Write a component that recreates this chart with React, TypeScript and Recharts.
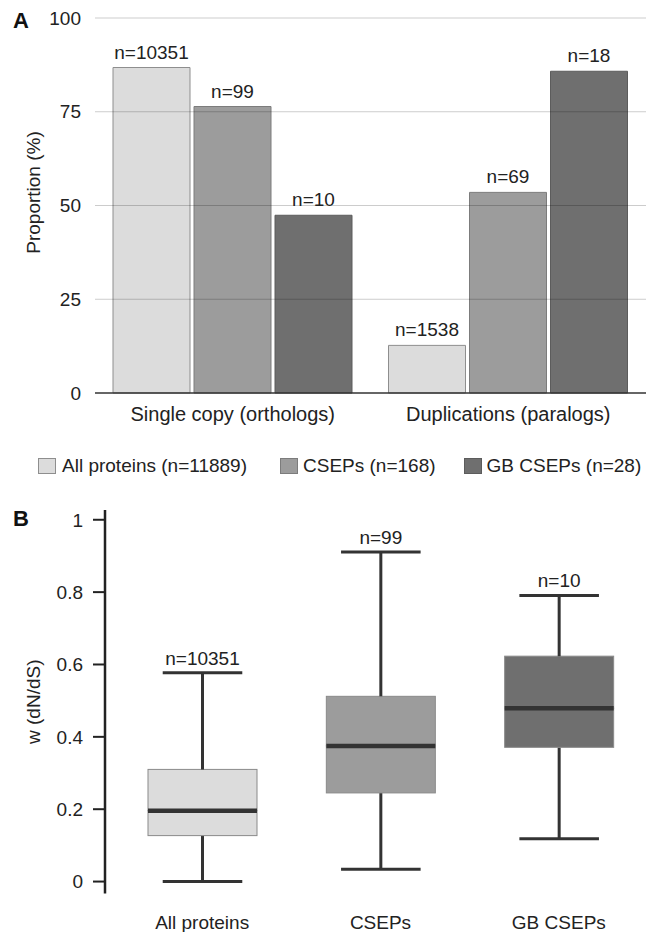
import React from 'react';
import { BarChart, Bar, XAxis, YAxis, ReferenceLine, LabelList, Cell } from 'recharts';

const FONT = '"Liberation Sans", Arial, Helvetica, sans-serif';
const TEXT = '#222';

// ---------- Panel A ----------
const categoriesA = ['Single copy (orthologs)', 'Duplications (paralogs)'];
const allProteinsPct = [86.8, 12.7];
const csepsPct = [76.4, 53.5];
const gbCsepsPct = [47.4, 85.8];
const allProteinsN = [10351, 1538];
const csepsN = [99, 69];
const gbCsepsN = [10, 18];
const ticksA = [0, 25, 50, 75, 100];
const gridA = [25, 50, 75, 100];

const legendLabels = ['All proteins (n=11889)', 'CSEPs (n=168)', 'GB CSEPs (n=28)'];
const groupColors = ['#dcdcdc', '#9c9c9c', '#6f6f6f'];
const groupStrokes = ['#8e8e8e', '#7c7c7c', '#5c5c5c'];

// ---------- Panel B ----------
const groupsB = ['All proteins', 'CSEPs', 'GB CSEPs'];
const whiskerMin = [0.0, 0.034, 0.118];
const quartile1 = [0.127, 0.245, 0.371];
const medians = [0.196, 0.375, 0.479];
const quartile3 = [0.31, 0.512, 0.623];
const whiskerMax = [0.577, 0.911, 0.791];
const countsB = [10351, 99, 10];
const ticksB = [0, 0.2, 0.4, 0.6, 0.8, 1];

const dataA = categoriesA.map((name, i) => ({
  name,
  all: allProteinsPct[i],
  cseps: csepsPct[i],
  gb: gbCsepsPct[i],
  nAll: allProteinsN[i],
  nCseps: csepsN[i],
  nGb: gbCsepsN[i],
}));

const dataB = groupsB.map((name, i) => ({
  name,
  base: whiskerMin[i],
  lowW: quartile1[i] - whiskerMin[i],
  boxLow: medians[i] - quartile1[i],
  boxHigh: quartile3[i] - medians[i],
  highW: whiskerMax[i] - quartile3[i],
  n: countsB[i],
}));

const LINE = '#333';

const Empty = () => <g />;

const WhiskerLow = (props: any) => {
  const { x, y, width, height } = props;
  const cx = x + width / 2;
  const capW = width * 0.73;
  return (
    <g>
      <line x1={cx} x2={cx} y1={y} y2={y + height} stroke={LINE} strokeWidth={3} />
      <line x1={cx - capW / 2} x2={cx + capW / 2} y1={y + height} y2={y + height} stroke={LINE} strokeWidth={3} />
    </g>
  );
};

const WhiskerHigh = (props: any) => {
  const { x, y, width, height } = props;
  const cx = x + width / 2;
  const capW = width * 0.73;
  return (
    <g>
      <line x1={cx} x2={cx} y1={y} y2={y + height} stroke={LINE} strokeWidth={3} />
      <line x1={cx - capW / 2} x2={cx + capW / 2} y1={y} y2={y} stroke={LINE} strokeWidth={3} />
    </g>
  );
};

const BoxLow = (props: any) => {
  const { x, y, width, height, fill } = props;
  return <rect x={x} y={y} width={width} height={height} fill={fill} stroke="#8a8a8a" strokeWidth={1} />;
};

const BoxHigh = (props: any) => {
  const { x, y, width, height, fill } = props;
  return (
    <g>
      <rect x={x} y={y} width={width} height={height} fill={fill} stroke="#8a8a8a" strokeWidth={1} />
      <line x1={x} x2={x + width} y1={y + height} y2={y + height} stroke={LINE} strokeWidth={4.5} />
    </g>
  );
};

const nFormat = (v: any) => `n=${v}`;

const yLabel = (text: string, dy: number) => (p: any) => {
  const vb = p.viewBox || {};
  const cx = (vb.x || 0) + 33;
  const cy = (vb.y || 0) + (vb.height || 0) / 2 + dy;
  return (
    <text
      x={cx}
      y={cy}
      transform={`rotate(-90 ${cx} ${cy})`}
      textAnchor="middle"
      dominantBaseline="central"
      fill={TEXT}
      fontSize={19}
      fontFamily={FONT}
    >
      {text}
    </text>
  );
};

const labelStyle = { fill: TEXT, fontSize: 19, fontFamily: FONT };

export default function App() {
  return (
    <div
      style={{
        position: 'absolute',
        left: 0,
        top: 0,
        width: 656,
        height: 932,
        background: '#fff',
        fontFamily: FONT,
        color: TEXT,
      }}
    >
      <div style={{ position: 'absolute', left: 0, top: 0 }}>
        <BarChart
          width={656}
          height={440}
          data={dataA}
          margin={{ top: 18, right: 10, left: 0, bottom: 0 }}
          barCategoryGap={18}
          barGap={4}
        >
          <XAxis
            dataKey="name"
            height={47}
            tickLine={false}
            tickSize={0}
            tickMargin={14}
            axisLine={{ stroke: '#333', strokeWidth: 1.5 }}
            tick={{ fill: TEXT, fontSize: 20, fontFamily: FONT }}
          />
          <YAxis
            width={95}
            domain={[0, 100]}
            ticks={ticksA}
            tickLine={false}
            axisLine={false}
            tickSize={0}
            tickMargin={14}
            tick={{ fill: TEXT, fontSize: 19, fontFamily: FONT }}
            label={{ content: yLabel('Proportion (%)', -13) }}
          />
          <Bar dataKey="all" fill={groupColors[0]} stroke={groupStrokes[0]} strokeWidth={1} isAnimationActive={false}>
            <LabelList dataKey="nAll" position="top" offset={9} formatter={nFormat} {...labelStyle} />
          </Bar>
          <Bar dataKey="cseps" fill={groupColors[1]} stroke={groupStrokes[1]} strokeWidth={1} isAnimationActive={false}>
            <LabelList dataKey="nCseps" position="top" offset={9} formatter={nFormat} {...labelStyle} />
          </Bar>
          <Bar dataKey="gb" fill={groupColors[2]} stroke={groupStrokes[2]} strokeWidth={1} isAnimationActive={false}>
            <LabelList dataKey="nGb" position="top" offset={9} formatter={nFormat} {...labelStyle} />
          </Bar>
          {gridA.map((v) => (
            <ReferenceLine key={v} y={v} stroke="#000" strokeOpacity={0.2} strokeWidth={1} />
          ))}
        </BarChart>
      </div>

      <div
        style={{
          position: 'absolute',
          left: 0,
          top: 455,
          height: 22,
          display: 'flex',
          alignItems: 'center',
          fontSize: 19,
          lineHeight: '22px',
          whiteSpace: 'nowrap',
        }}
      >
        {legendLabels.map((lab, i) => (
          <div
            key={lab}
            style={{
              display: 'flex',
              alignItems: 'center',
              marginLeft: i === 0 ? 38 : i === 1 ? 33 : 28,
            }}
          >
            <span
              style={{
                display: 'inline-block',
                width: 18,
                height: 16,
                boxSizing: 'border-box',
                background: groupColors[i],
                border: `1px solid ${groupStrokes[i]}`,
                marginRight: i === 0 ? 6 : 5,
              }}
            />
            <span>{lab}</span>
          </div>
        ))}
      </div>

      <div style={{ position: 'absolute', left: 0, top: 480 }}>
        <BarChart
          width={656}
          height={452}
          data={dataB}
          margin={{ top: 30, right: 8, left: 0, bottom: 0 }}
          barSize={109}
        >
          <XAxis
            dataKey="name"
            height={38.5}
            padding={{ left: 8, right: 0 }}
            tickLine={false}
            axisLine={false}
            tickSize={0}
            tickMargin={22}
            tick={{ fill: TEXT, fontSize: 19, fontFamily: FONT }}
          />
          <YAxis
            width={105}
            domain={[-0.033, 1.027]}
            allowDataOverflow
            ticks={ticksB}
            tickSize={12}
            tickMargin={10}
            tickLine={{ stroke: '#222', strokeWidth: 2 }}
            axisLine={{ stroke: '#222', strokeWidth: 2.5 }}
            tick={{ fill: TEXT, fontSize: 19, fontFamily: FONT }}
            label={{ content: yLabel('w (dN/dS)', 0) }}
          />
          <Bar dataKey="base" stackId="box" shape={Empty} isAnimationActive={false} />
          <Bar dataKey="lowW" stackId="box" shape={WhiskerLow} isAnimationActive={false} />
          <Bar dataKey="boxLow" stackId="box" shape={BoxLow} isAnimationActive={false}>
            {dataB.map((d, i) => (
              <Cell key={d.name} fill={groupColors[i]} />
            ))}
          </Bar>
          <Bar dataKey="boxHigh" stackId="box" shape={BoxHigh} isAnimationActive={false}>
            {dataB.map((d, i) => (
              <Cell key={d.name} fill={groupColors[i]} />
            ))}
          </Bar>
          <Bar dataKey="highW" stackId="box" shape={WhiskerHigh} isAnimationActive={false}>
            <LabelList dataKey="n" position="top" offset={8} formatter={nFormat} {...labelStyle} />
          </Bar>
        </BarChart>
      </div>

      <div
        style={{
          position: 'absolute',
          left: 13,
          top: 8,
          fontSize: 22,
          fontWeight: 'bold',
          lineHeight: '26px',
          color: '#111',
        }}
      >
        A
      </div>
      <div
        style={{
          position: 'absolute',
          left: 13,
          top: 506,
          fontSize: 22,
          fontWeight: 'bold',
          lineHeight: '26px',
          color: '#111',
        }}
      >
        B
      </div>
    </div>
  );
}
